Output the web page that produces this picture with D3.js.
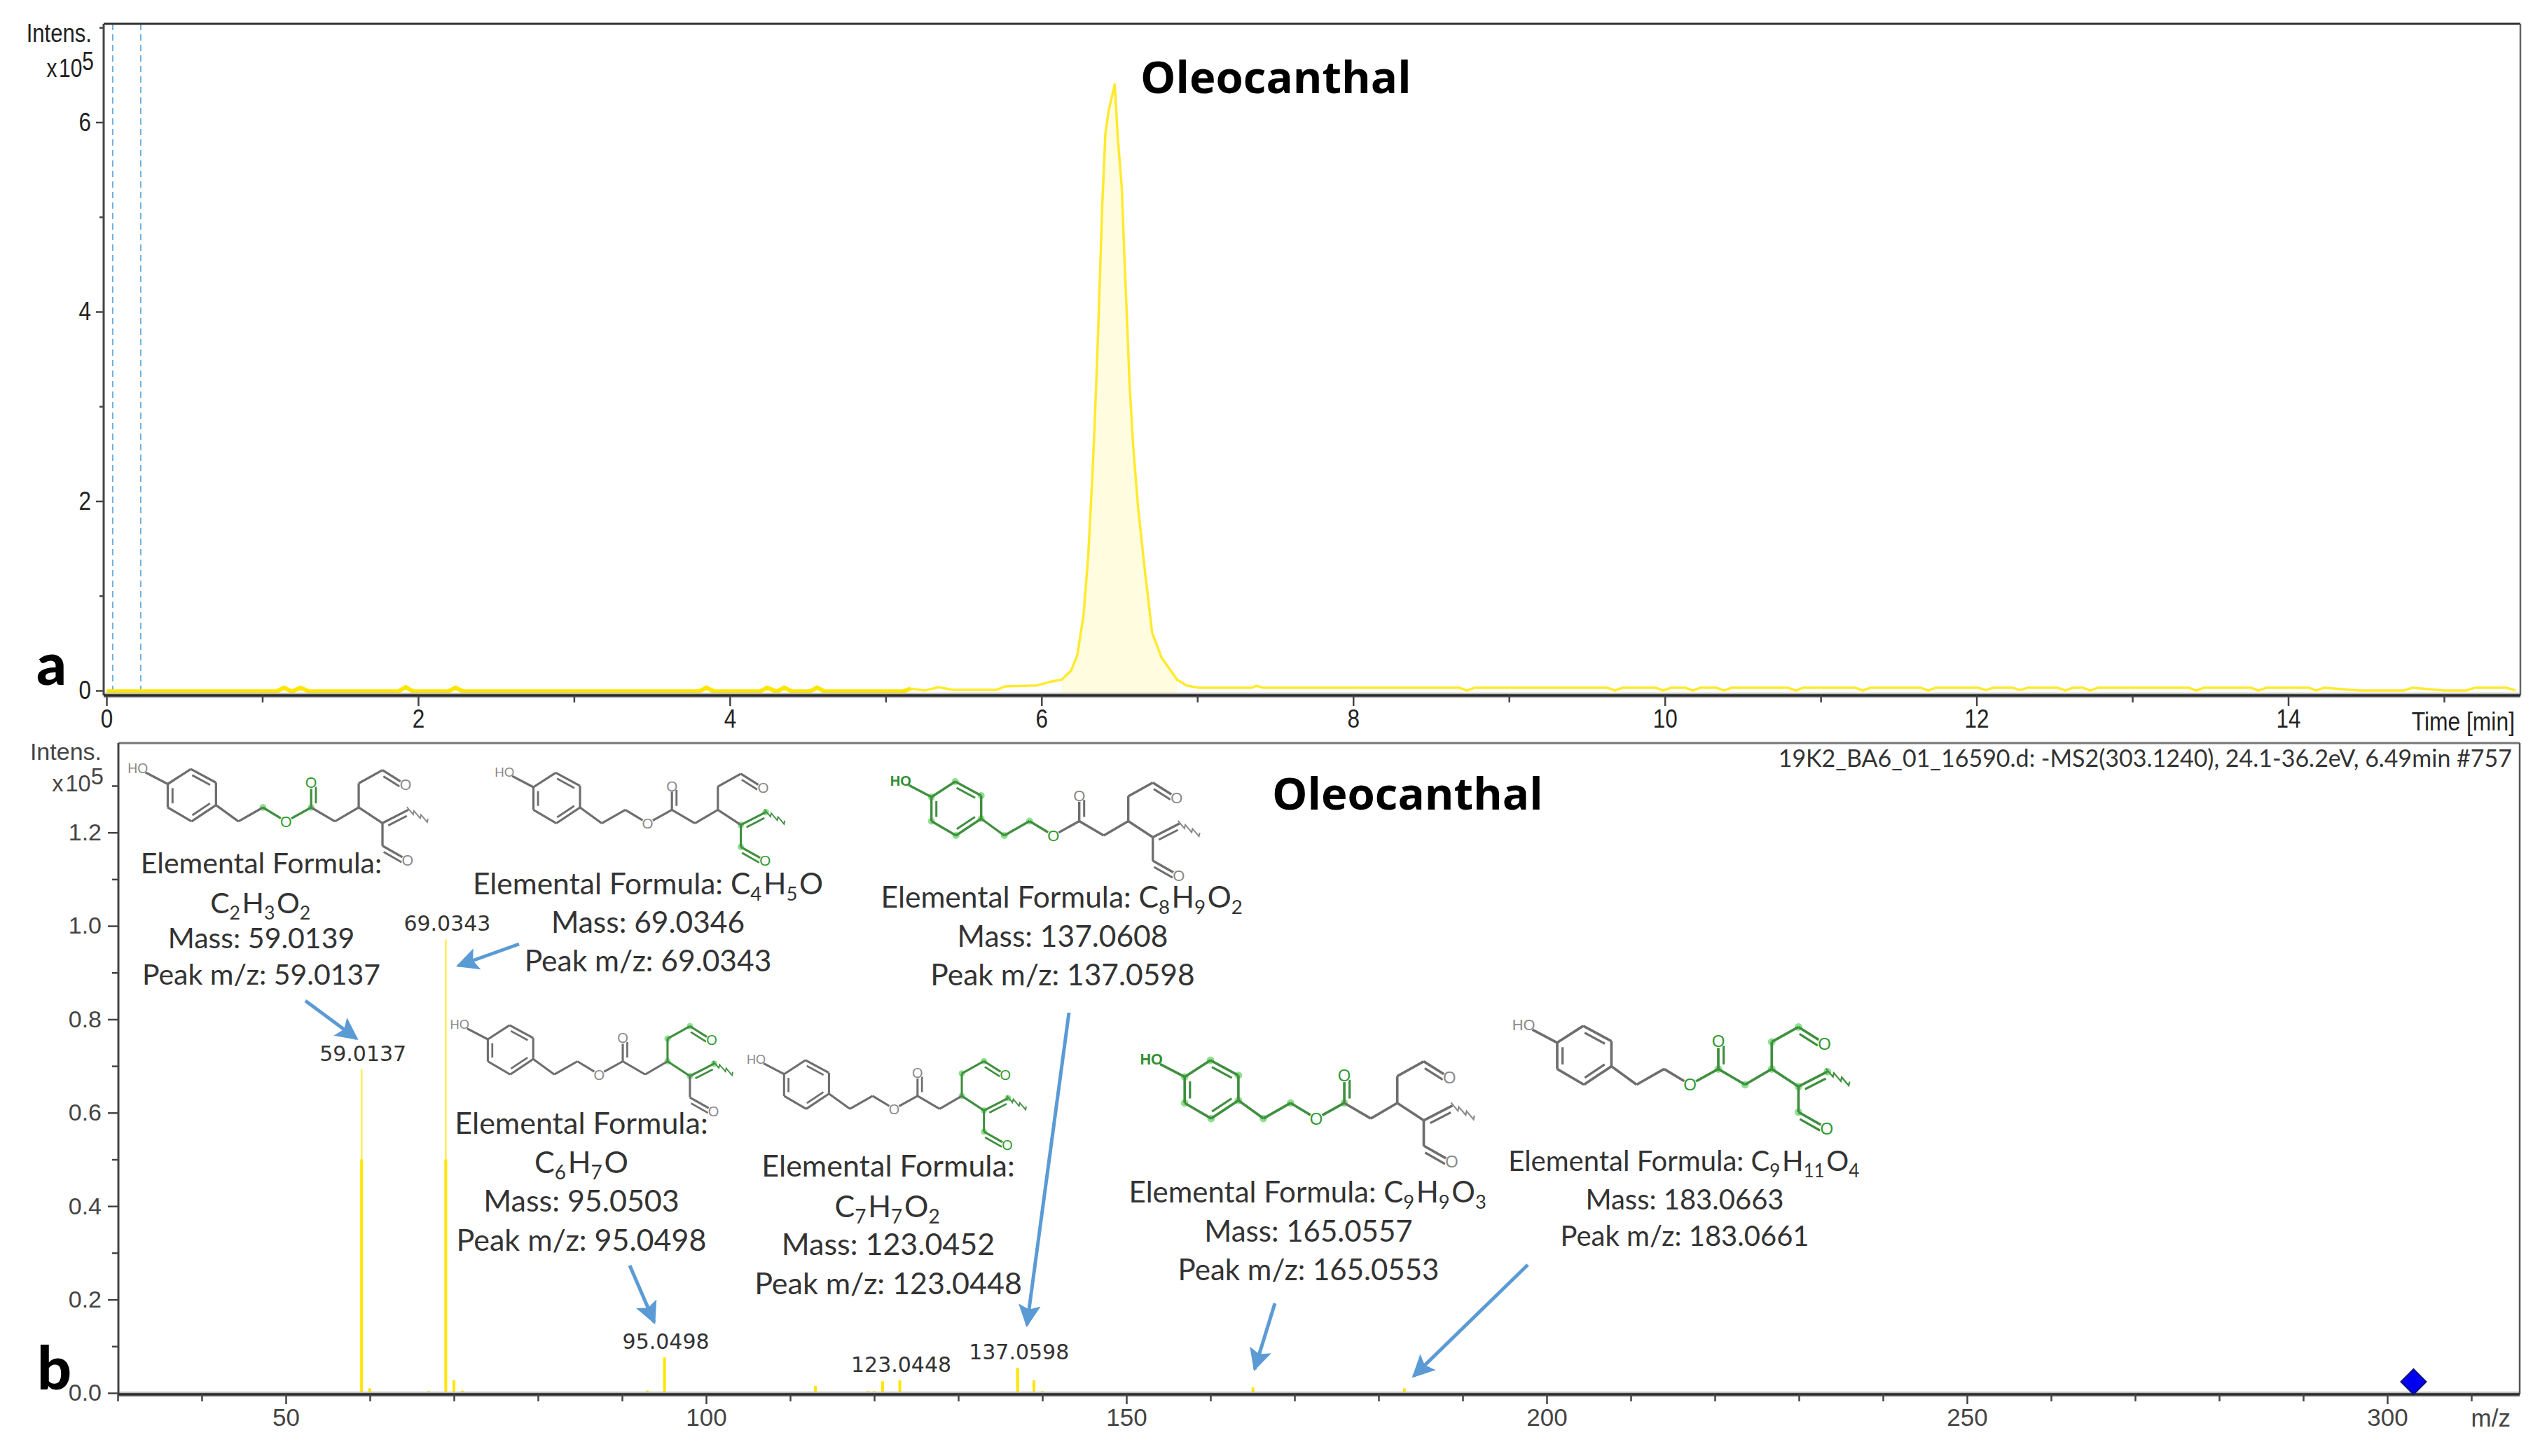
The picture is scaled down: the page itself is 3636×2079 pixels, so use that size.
<!DOCTYPE html>
<html>
<head>
<meta charset="utf-8">
<title>Oleocanthal</title>
<script src="https://cdnjs.cloudflare.com/ajax/libs/d3/7.8.5/d3.min.js"></script>
<style>
  html, body { margin: 0; padding: 0; background: #fff; }
  svg { display: block; }
</style>
</head>
<body>
<div id="box"></div>
<script>
// chromatogram, time in min / intensity in 1e5
const baseTime = [0, 1.09, 1.14, 1.19, 1.245, 1.3, 1.87, 1.92, 1.97, 2.19, 2.24, 2.29, 3.8, 3.85, 3.9, 4.19, 4.24, 4.3, 4.35, 4.4, 4.51, 4.56, 4.61, 5.11, 5.16]
const baseIntensity = [-0.01, -0.01, 0.03, -0.01, 0.03, -0.01, -0.01, 0.035, -0.01, -0.01, 0.03, -0.01, -0.01, 0.03, -0.01, -0.01, 0.03, -0.01, 0.03, -0.01, -0.01, 0.03, -0.01, -0.01, 0.02]

const traceTime = [5.16, 5.25, 5.34, 5.43, 5.71, 5.77, 5.97, 6.05, 6.13, 6.19, 6.23, 6.27, 6.30, 6.325, 6.34, 6.36, 6.375, 6.39, 6.41, 6.43, 6.47, 6.49, 6.515, 6.53, 6.55, 6.565, 6.59, 6.62, 6.66, 6.71, 6.77, 6.87, 6.93, 7.01, 7.35, 7.38, 7.42, 8.68, 8.73, 8.78, 9.63, 9.68, 9.73, 9.94, 9.99, 10.04, 10.13, 10.18, 10.23, 10.33, 10.38, 10.43, 10.79, 10.84, 10.89, 11.22, 11.27, 11.32, 11.64, 11.69, 11.74, 12.01, 12.06, 12.11, 12.23, 12.28, 12.33, 12.52, 12.57, 12.62, 12.68, 12.73, 12.78, 13.36, 13.41, 13.46, 13.76, 13.81, 13.86, 14.13, 14.18, 14.23, 14.46, 14.74, 14.8, 15.0, 15.14, 15.2, 15.4, 15.46]
const traceIntensity = [0.02, 0, 0.035, 0.007, 0.007, 0.045, 0.054, 0.09, 0.115, 0.21, 0.374, 0.8, 1.43, 2.21, 2.77, 3.62, 4.37, 5.13, 5.88, 6.115, 6.4, 5.83, 5.315, 4.66, 3.86, 3.24, 2.54, 1.93, 1.315, 0.61, 0.35, 0.115, 0.054, 0.03, 0.03, 0.05, 0.03, 0.03, 0, 0.03, 0.03, 0, 0.03, 0.03, 0, 0.03, 0.03, 0, 0.03, 0.03, 0, 0.03, 0.03, 0, 0.03, 0.03, 0, 0.03, 0.03, 0, 0.03, 0.03, 0.005, 0.03, 0.03, 0.005, 0.03, 0.03, 0, 0.03, 0.03, 0, 0.03, 0.03, 0, 0.03, 0.03, 0, 0.03, 0.03, 0, 0.03, 0, 0, 0.03, 0, 0, 0.03, 0.03, 0]

const fillTime = [6.13, 6.19, 6.23, 6.27, 6.30, 6.325, 6.34, 6.36, 6.375, 6.39, 6.41, 6.43, 6.47, 6.49, 6.515, 6.53, 6.55, 6.565, 6.59, 6.62, 6.66, 6.71, 6.77, 6.87]
const fillIntensity = [0.115, 0.21, 0.374, 0.8, 1.43, 2.21, 2.77, 3.62, 4.37, 5.13, 5.88, 6.115, 6.4, 5.83, 5.315, 4.66, 3.86, 3.24, 2.54, 1.93, 1.315, 0.61, 0.35, 0.115]

const segmentTimes = [0.04, 0.22]

const timeMajor = [0, 2, 4, 6, 8, 10, 12, 14]
const timeMinor = [1, 3, 5, 7, 9, 11, 13, 15]
const intensMajor = [0, 2, 4, 6]
const intensMinor = [1, 3, 5, 7]

// ms2 spectrum, intensity in 1e5
const peakMz = [59.0137, 60, 61, 67, 69.0343, 70, 71, 93, 95.0498, 96, 113, 119.3, 120, 121, 123.0448, 137.0598, 138, 139, 140, 165.0553, 183.0661]
const peakIntensity = [0.693, 0.01, 0.003, 0.004, 0.971, 0.027, 0.005, 0.005, 0.076, 0.002, 0.015, 0.004, 0.004, 0.025, 0.027, 0.054, 0.003, 0.027, 0.004, 0.012, 0.01]
const labelledPeaks = ['59.0137', '69.0343', '95.0498', '123.0448', '137.0598']
const precursorMz = 303.124
const precursorIntensity = 0.024

const mzMajor = [50, 100, 150, 200, 250, 300]
const mzMinor = [30, 40, 60, 70, 80, 90, 110, 120, 130, 140, 160, 170, 180, 190, 210, 220, 230, 240, 260, 270, 280, 290, 310]
const specMajor = [0, 0.2, 0.4, 0.6, 0.8, 1.0, 1.2]
const specMinor = [0.1, 0.3, 0.5, 0.7, 0.9, 1.1, 1.3]

// fragment annotations
const fragmentFormulas = [
  [['C', 2], ['H', 3], ['O', 2]],
  [['C', 4], ['H', 5], ['O', '']],
  [['C', 6], ['H', 7], ['O', '']],
  [['C', 7], ['H', 7], ['O', 2]],
  [['C', 8], ['H', 9], ['O', 2]],
  [['C', 9], ['H', 9], ['O', 3]],
  [['C', 9], ['H', 11], ['O', 4]]
]
const fragmentMasses = ['59.0139', '69.0346', '95.0503', '123.0452', '137.0608', '165.0557', '183.0663']
const fragmentPeaks = ['59.0137', '69.0343', '95.0498', '123.0448', '137.0598', '165.0553', '183.0661']

// layout of the annotations, centre x, font size and the y of each text line
const fragmentLayout = [
  { cx: 373, size: 41, ys: [1233, 1290, 1340, 1392] },
  { cx: 925, size: 42.5, ys: [1263, 1318, 1373] },
  { cx: 830, size: 43, ys: [1605, 1661, 1716, 1772] },
  { cx: 1268, size: 43, ys: [1666, 1724, 1778, 1834] },
  { cx: 1517, size: 42.5, ys: [1282, 1338, 1393] },
  { cx: 1868, size: 42, ys: [1703, 1759, 1814] },
  { cx: 2405, size: 40, ys: [1658, 1713, 1765] }
]
const arrowLayout = [
  [436, 1429, 509, 1483],
  [741, 1348, 654, 1379],
  [899, 1807, 934, 1888],
  [1526, 1446, 1466, 1892],
  [1820, 1861, 1791, 1955],
  [2181, 1806, 2018, 1965]
]
const moleculeLayout = [
  { x: 239.5, y: 1119.5, k: 0.97 },
  { x: 761.5, y: 1124, k: 0.937 },
  { x: 696.4, y: 1484, k: 0.913 },
  { x: 1119.3, y: 1533.7, k: 0.903 },
  { x: 1329.7, y: 1138, k: 1 },
  { x: 1691.2, y: 1537.7, k: 1.08 },
  { x: 2223, y: 1488.8, k: 1.09 }
]

// oleocanthal skeleton, local units
const atoms = {
  c1: [0, 0], c2: [34, -22], c3: [71, -2], c4: [71, 31], c5: [35, 55], c6: [0, 34.5],
  c7: [104, 55], c8: [140, 34.5], o9: [174, 55], c10: [211, 34.5], o11: [211, -2], c12: [246, 55],
  c13: [281, 34.5], c14: [281, -1], c15: [316, -20.5], o16: [350, 1], c17: [316, 57.5], c18: [354, 38],
  r: [385, 55], c19: [316, 91], o20: [353, 112], ho: [-44, -23]
}
const bonds = [
  ['ho', 'c1'], ['c1', 'c2'], ['c2', 'c3', 1], ['c3', 'c4'], ['c4', 'c5', 1], ['c5', 'c6'], ['c6', 'c1', 1],
  ['c4', 'c7'], ['c7', 'c8'], ['c8', 'o9'], ['o9', 'c10'], ['c10', 'o11', 2], ['c10', 'c12'], ['c12', 'c13'],
  ['c13', 'c14'], ['c14', 'c15'], ['c15', 'o16', 2], ['c13', 'c17'], ['c17', 'c18', 2], ['c17', 'c19'], ['c19', 'o20', 2]
]
const oxygens = ['o9', 'o11', 'o16', 'o20']
const greenAtoms = [
  ['c8', 'o9', 'c10', 'o11'],
  ['c17', 'c18', 'r', 'c19', 'o20'],
  ['c13', 'c14', 'c15', 'o16', 'c17', 'c18', 'r'],
  ['c13', 'c14', 'c15', 'o16', 'c17', 'c18', 'r', 'c19', 'o20'],
  ['ho', 'c1', 'c2', 'c3', 'c4', 'c5', 'c6', 'c7', 'c8', 'o9'],
  ['ho', 'c1', 'c2', 'c3', 'c4', 'c5', 'c6', 'c7', 'c8', 'o9', 'c10', 'o11'],
  ['o9', 'c10', 'o11', 'c12', 'c13', 'c14', 'c15', 'o16', 'c17', 'c18', 'r', 'c19', 'o20']
]

const width = 3636
const height = 2079
const arial = '"Liberation Sans", Arial, sans-serif'
const callout = 'Lato, "Open Sans", sans-serif'
const heading = '"Open Sans", "Noto Sans", sans-serif'
const yellow = '#ffe600'

const svg = d3.select('#box').append('svg')
  .attr('width', width).attr('height', height)
  .attr('viewBox', `0 0 ${width} ${height}`)

svg.append('defs').append('marker')
  .attr('id', 'arrowHead')
  .attr('viewBox', '0 0 10 10')
  .attr('refX', 9).attr('refY', 5)
  .attr('markerWidth', 6.4).attr('markerHeight', 6.4)
  .attr('markerUnits', 'strokeWidth')
  .attr('orient', 'auto')
  .append('path')
  .attr('d', 'M0,0L10,5L0,10L2,5Z')
  .attr('fill', '#5b9bd5')

// panel a scales
const xTime = d3.scaleLinear().domain([0, 15]).range([152, 3489])
const yA = d3.scaleLinear().domain([0, 7]).range([986, 39.25])

// panel b scales
const xMz = d3.scaleLinear().domain([30, 310]).range([168, 3528])
const yB = d3.scaleLinear().domain([0, 1.3]).range([1989, 1122])

// the instrument labels are a narrow arial, squeeze the real text to match
function condense(selection, factor) {
  selection.each(function() {
    d3.select(this)
      .attr('textLength', this.getComputedTextLength() * factor)
      .attr('lengthAdjust', 'spacingAndGlyphs')
  })
}

function frame(box, topColor, rightColor) {
  const g = svg.append('g')
  g.append('line').attr('x1', box.left).attr('x2', box.right).attr('y1', box.bottom).attr('y2', box.bottom)
    .attr('stroke', '#bdbdbd').attr('stroke-width', 8)
  g.append('line').attr('x1', box.left).attr('x2', box.right).attr('y1', box.top).attr('y2', box.top)
    .attr('stroke', topColor).attr('stroke-width', 3)
  g.append('line').attr('x1', box.right).attr('x2', box.right).attr('y1', box.top).attr('y2', box.bottom)
    .attr('stroke', rightColor).attr('stroke-width', 2.5)
  g.append('line').attr('x1', box.left).attr('x2', box.left).attr('y1', box.top).attr('y2', box.bottom)
    .attr('stroke', '#444').attr('stroke-width', 3)
  g.append('line').attr('x1', box.left).attr('x2', box.right).attr('y1', box.bottom).attr('y2', box.bottom)
    .attr('stroke', '#2a2a2a').attr('stroke-width', 3.5)
}

function drawAxis(axis, transform, size, color) {
  const g = svg.append('g').attr('transform', transform).call(axis)
  g.select('.domain').remove()
  g.selectAll('.tick line').attr('stroke', '#444').attr('stroke-width', 2.5)
  g.selectAll('.tick text')
    .attr('font-family', arial).attr('font-size', size).attr('fill', color)
  return g
}

function noLabel() { return '' }

// panel a
const boxA = { left: 148, right: 3598, top: 34, bottom: 993 }

svg.append('g').selectAll('line').data(segmentTimes).join('line')
  .attr('x1', d => xTime(d)).attr('x2', d => xTime(d))
  .attr('y1', boxA.top).attr('y2', boxA.bottom)
  .attr('stroke', '#6aaedc').attr('stroke-width', 1.8).attr('stroke-dasharray', '9,6')

const peakFill = d3.area()
  .x(i => xTime(fillTime[i]))
  .y0(boxA.bottom - 3)
  .y1(i => yA(fillIntensity[i]))
svg.append('path')
  .attr('d', peakFill(d3.range(fillTime.length)))
  .attr('fill', '#fffce0')

const baseLine = d3.line().x(i => xTime(baseTime[i])).y(i => yA(baseIntensity[i]))
svg.append('path')
  .attr('d', baseLine(d3.range(baseTime.length)))
  .attr('fill', 'none').attr('stroke', yellow).attr('stroke-width', 6)

const traceLine = d3.line().x(i => xTime(traceTime[i])).y(i => yA(traceIntensity[i]))
svg.append('path')
  .attr('d', traceLine(d3.range(traceTime.length)))
  .attr('fill', 'none').attr('stroke', '#ffea2e').attr('stroke-width', 3.5)
  .attr('stroke-linejoin', 'round')

frame(boxA, '#2f2f2f', '#666')

const timeAxis = drawAxis(d3.axisBottom(xTime).tickValues(timeMajor).tickSize(15).tickPadding(5).tickFormat(d3.format('d')),
  `translate(0,${boxA.bottom})`, 37, '#222')
condense(timeAxis.selectAll('.tick text'), 0.85)
drawAxis(d3.axisBottom(xTime).tickValues(timeMinor).tickSize(10).tickFormat(noLabel),
  `translate(0,${boxA.bottom})`, 37, '#222')
const intensAxis = drawAxis(d3.axisLeft(yA).tickValues(intensMajor).tickSize(11).tickPadding(7).tickFormat(d3.format('d')),
  `translate(${boxA.left},0)`, 37, '#222')
condense(intensAxis.selectAll('.tick text'), 0.85)
drawAxis(d3.axisLeft(yA).tickValues(intensMinor).tickSize(6).tickFormat(noLabel),
  `translate(${boxA.left},0)`, 37, '#222')

function unitLabel(rightX, y1, y2, size, color, factor) {
  const name = svg.append('text').attr('x', rightX).attr('y', y1).attr('text-anchor', 'end')
    .attr('font-family', arial).attr('font-size', size).attr('fill', color).text('Intens.')
  const t = svg.append('text').attr('x', rightX + 3).attr('y', y2).attr('text-anchor', 'end')
    .attr('font-family', arial).attr('font-size', size).attr('fill', color)
  t.append('tspan').text('x')
  t.append('tspan').attr('dx', 3).text('10')
  t.append('tspan').attr('dy', -10).text('5')
  condense(name, factor)
  condense(t, factor)
}

unitLabel(131, 60, 110, 37, '#222', 0.84)

const timeLabel = svg.append('text').attr('x', 3590).attr('y', 1043).attr('text-anchor', 'end')
  .attr('font-family', arial).attr('font-size', 37).attr('fill', '#222').text('Time [min]')
condense(timeLabel, 0.86)

svg.append('text').attr('x', 1628).attr('y', 133)
  .attr('font-family', heading).attr('font-weight', 700).attr('font-size', 63.5).attr('fill', '#000')
  .text('Oleocanthal')

svg.append('text').attr('x', 52).attr('y', 978)
  .attr('font-family', callout).attr('font-weight', 900).attr('font-size', 84).attr('fill', '#000')
  .text('a')

// panel b
const boxB = { left: 169, right: 3597, top: 1061, bottom: 1991 }

const stems = svg.append('g')
stems.selectAll('line').data(d3.range(peakMz.length)).join('line')
  .attr('x1', i => xMz(peakMz[i])).attr('x2', i => xMz(peakMz[i]))
  .attr('y1', boxB.bottom).attr('y2', i => yB(peakIntensity[i]))
  .attr('stroke', '#ffed4d').attr('stroke-width', 2.5)
const thick = svg.append('g')
thick.selectAll('line').data(d3.range(peakMz.length)).join('line')
  .attr('x1', i => xMz(peakMz[i])).attr('x2', i => xMz(peakMz[i]))
  .attr('y1', boxB.bottom).attr('y2', i => yB(Math.min(peakIntensity[i], 0.5)))
  .attr('stroke', yellow).attr('stroke-width', 4)

svg.append('g').selectAll('text').data(labelledPeaks).join('text')
  .attr('x', d => xMz(+d) + 2)
  .attr('y', d => yB(peakIntensity[peakMz.indexOf(+d)]) - 12)
  .attr('text-anchor', 'middle')
  .attr('font-family', '"DejaVu Sans", sans-serif').attr('font-size', 30).attr('fill', '#333')
  .text(d => d)

frame(boxB, '#777', '#555')

drawAxis(d3.axisBottom(xMz).tickValues(mzMajor).tickSize(14).tickPadding(6).tickFormat(d3.format('d')),
  `translate(0,${boxB.bottom})`, 35, '#444')
drawAxis(d3.axisBottom(xMz).tickValues(mzMinor).tickSize(10).tickFormat(noLabel),
  `translate(0,${boxB.bottom})`, 35, '#444')
drawAxis(d3.axisLeft(yB).tickValues(specMajor).tickSize(15).tickPadding(9).tickFormat(d3.format('.1f')),
  `translate(${boxB.left},0)`, 34, '#444')
drawAxis(d3.axisLeft(yB).tickValues(specMinor).tickSize(9).tickFormat(noLabel),
  `translate(${boxB.left},0)`, 34, '#444')

unitLabel(145, 1085, 1130, 34, '#444', 1)

svg.append('text').attr('x', 3584).attr('y', 2037).attr('text-anchor', 'end')
  .attr('font-family', arial).attr('font-size', 35).attr('fill', '#444').text('m/z')

svg.append('text').attr('x', 3586).attr('y', 1095).attr('text-anchor', 'end')
  .attr('font-family', callout).attr('font-size', 34).attr('fill', '#333')
  .text('19K2_BA6_01_16590.d: -MS2(303.1240), 24.1-36.2eV, 6.49min #757')

svg.append('path')
  .attr('d', d3.symbol().type(d3.symbolSquare).size(650))
  .attr('transform', `translate(${xMz(precursorMz)},${yB(precursorIntensity)}) rotate(45)`)
  .attr('fill', '#0000f0').attr('stroke', '#10107a').attr('stroke-width', 2)

svg.append('text').attr('x', 1816).attr('y', 1156)
  .attr('font-family', heading).attr('font-weight', 700).attr('font-size', 63.5).attr('fill', '#000')
  .text('Oleocanthal')

svg.append('text').attr('x', 53).attr('y', 1984)
  .attr('font-family', callout).attr('font-weight', 900).attr('font-size', 86).attr('fill', '#000')
  .text('b')

// arrows
svg.append('g').selectAll('line').data(arrowLayout).join('line')
  .attr('x1', d => d[0]).attr('y1', d => d[1]).attr('x2', d => d[2]).attr('y2', d => d[3])
  .attr('stroke', '#5b9bd5').attr('stroke-width', 5)
  .attr('marker-end', 'url(#arrowHead)')

// annotations
function formulaSpans(text, formula, size) {
  formula.forEach(([el, n]) => {
    text.append('tspan').text(el)
    if (n !== '') {
      text.append('tspan').attr('font-size', size * 0.65).attr('dy', 9).text(n)
      text.append('tspan').attr('dy', -9).text('\u200a')
    }
  })
}

function calloutLine(x, y, size) {
  return svg.append('text').attr('x', x).attr('y', y).attr('text-anchor', 'middle')
    .attr('font-family', callout).attr('font-size', size).attr('fill', '#333')
}

fragmentLayout.forEach((box, i) => {
  const ys = box.ys
  const first = calloutLine(box.cx, ys[0] + 14, box.size)
  first.append('tspan').text('Elemental Formula:')
  if (ys.length === 3) {
    first.append('tspan').text(' ')
    formulaSpans(first, fragmentFormulas[i], box.size)
  } else {
    formulaSpans(calloutLine(box.cx, ys[1] + 14, box.size), fragmentFormulas[i], box.size)
  }
  calloutLine(box.cx, ys[ys.length - 2] + 14, box.size).text(`Mass: ${fragmentMasses[i]}`)
  calloutLine(box.cx, ys[ys.length - 1] + 14, box.size).text(`Peak m/z: ${fragmentPeaks[i]}`)
})

// molecules
function drawMolecule(pos, green) {
  const g = svg.append('g').attr('transform', `translate(${pos.x},${pos.y}) scale(${pos.k})`)
  const isGreen = (a, b) => green.includes(a) && green.includes(b)
  const color = (a, b) => isGreen(a, b) ? '#3f8f3f' : '#6e6e6e'
  const ringCentre = [35.5, 16.5]

  green.filter(a => a !== 'ho' && a !== 'r').forEach(a => {
    g.append('circle').attr('cx', atoms[a][0]).attr('cy', atoms[a][1]).attr('r', 5).attr('fill', '#8fe08f')
  })

  bonds.forEach(([a, b, kind]) => {
    const [x1, y1] = atoms[a]
    const [x2, y2] = atoms[b]
    g.append('line').attr('x1', x1).attr('y1', y1).attr('x2', x2).attr('y2', y2)
      .attr('stroke', color(a, b)).attr('stroke-width', 3.4)
    if (!kind) return
    const len = Math.hypot(x2 - x1, y2 - y1)
    let nx = -(y2 - y1) / len
    let ny = (x2 - x1) / len
    // inner line of the ring sits on the side of the ring centre
    if (kind === 1) {
      const side = (ringCentre[0] - x1) * nx + (ringCentre[1] - y1) * ny
      if (side < 0) { nx = -nx; ny = -ny }
    }
    const off = 7
    const ux = (x2 - x1) / len * 6
    const uy = (y2 - y1) / len * 6
    g.append('line')
      .attr('x1', x1 + nx * off + ux).attr('y1', y1 + ny * off + uy)
      .attr('x2', x2 + nx * off - ux).attr('y2', y2 + ny * off - uy)
      .attr('stroke', color(a, b)).attr('stroke-width', 3)
  })

  // wavy end of the chain
  const [sx, sy] = atoms.c18
  const [ex, ey] = atoms.r
  const wave = d3.range(0, 7).map(j => {
    const t = j / 6
    const off = j % 2 ? 4 : -4
    return [sx + (ex - sx) * t + off * 0.5, sy + (ey - sy) * t + off]
  })
  g.append('path').attr('d', d3.line()(wave)).attr('fill', 'none')
    .attr('stroke', isGreen('c18', 'r') ? '#3f8f3f' : '#8a8a8a').attr('stroke-width', 2)

  oxygens.forEach(a => {
    const on = green.includes(a)
    g.append('circle').attr('cx', atoms[a][0]).attr('cy', atoms[a][1]).attr('r', 9).attr('fill', '#fff')
    g.append('text').attr('x', atoms[a][0]).attr('y', atoms[a][1] + 8)
      .attr('text-anchor', 'middle')
      .attr('font-family', arial).attr('font-size', 22)
      .attr('fill', on ? '#2f9a2f' : '#8a8a8a')
      .text('O')
  })

  const hoOn = green.includes('ho')
  g.append('circle').attr('cx', atoms.ho[0]).attr('cy', atoms.ho[1]).attr('r', 13).attr('fill', '#fff')
  g.append('text').attr('x', atoms.ho[0]).attr('y', atoms.ho[1] + 7)
    .attr('text-anchor', 'middle')
    .attr('font-family', arial).attr('font-size', 20).attr('font-weight', hoOn ? 700 : 400)
    .attr('fill', hoOn ? '#2f8f2f' : '#8a8a8a')
    .text('HO')
}

moleculeLayout.forEach((pos, i) => drawMolecule(pos, greenAtoms[i]))
</script>
</body>
</html>
